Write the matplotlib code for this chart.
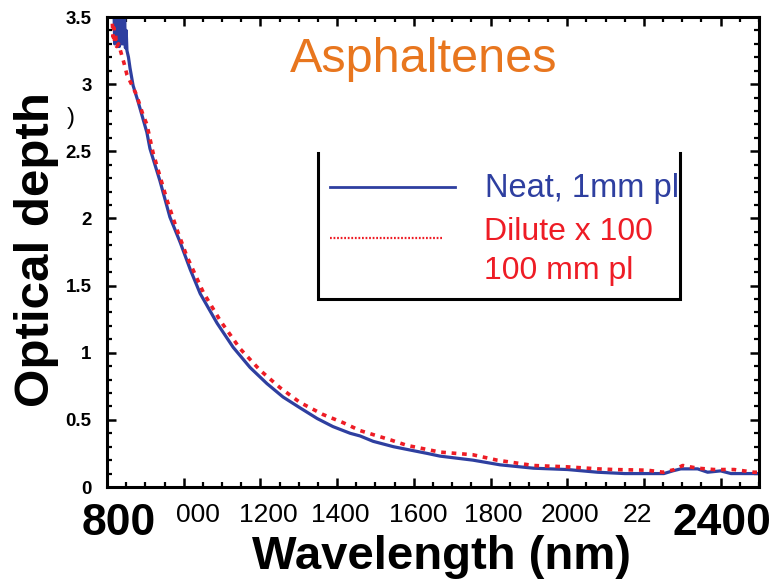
import matplotlib
matplotlib.use("Agg")
import matplotlib.pyplot as plt
from matplotlib.transforms import ScaledTranslation
from matplotlib.ticker import MultipleLocator

plt.rcParams['font.family'] = ['Liberation Sans', 'DejaVu Sans']

# ---- data ----
neat_wl = [818, 820, 822, 824, 826, 828, 830, 832, 834, 836, 838, 840, 842, 844,
           846, 848, 850, 852, 856, 860, 868, 881, 891, 904, 912, 938, 964, 991, 1017,
           1043, 1087, 1129, 1173, 1217, 1259, 1303, 1348, 1389, 1434, 1460, 1494,
           1547, 1582, 1635, 1668, 1754, 1825, 1912, 2001, 2079, 2150, 2192, 2252,
           2275, 2296, 2340, 2366, 2400, 2427, 2479, 2500]
neat_od = [3.6, 3.3, 3.6, 3.32, 3.6, 3.28, 3.6, 3.28, 3.6, 3.3, 3.6, 3.3, 3.55, 3.3,
           3.5, 3.27, 3.4, 3.25, 3.2, 3.12, 2.99, 2.87, 2.77, 2.64, 2.52, 2.28, 2.01,
           1.82, 1.62, 1.44, 1.22, 1.04, 0.89, 0.77, 0.67, 0.59, 0.51, 0.45, 0.40,
           0.38, 0.34, 0.30, 0.28, 0.25, 0.23, 0.20, 0.165, 0.14, 0.13, 0.11, 0.10,
           0.10, 0.10, 0.12, 0.135, 0.135, 0.11, 0.12, 0.10, 0.10, 0.10]

dil_wl = [814, 816, 818, 820, 822, 825, 830, 838, 845, 852, 877, 894, 904, 920, 956,
          982, 1008, 1051, 1095, 1147, 1199, 1251, 1303, 1363, 1415, 1460, 1494, 1540,
          1582, 1668, 1754, 1817, 1912, 2001, 2079, 2121, 2209, 2250, 2280, 2301, 2340,
          2383, 2435, 2487, 2500]
dil_od = [3.45, 3.35, 3.42, 3.3, 3.38, 3.28, 3.3, 3.22, 3.15, 3.07, 2.92, 2.77, 2.70,
          2.49, 2.14, 1.92, 1.72, 1.45, 1.24, 1.03, 0.87, 0.74, 0.63, 0.54, 0.48, 0.42,
          0.39, 0.35, 0.31, 0.26, 0.24, 0.20, 0.16, 0.15, 0.135, 0.13, 0.125, 0.11, 0.13,
          0.16, 0.14, 0.13, 0.13, 0.11, 0.11]

x_ticks = [800, 1000, 1200, 1400, 1600, 1800, 2000, 2200, 2400]
x_tick_labels = ["800", "000", "1200", "1400", "1600", "1800", "2000", "22", "2400"]
y_ticks = [0, 0.5, 1, 1.5, 2, 2.5, 3, 3.5]
y_tick_labels = ["0", "0.5", "1", "1.5", "2", "2.5", "3", "3.5"]

title = "Asphaltenes"
series_labels = ["Neat, 1mm pl", "Dilute x 100", "100 mm pl"]

BLUE = '#2E3FA0'
RED = '#EE1C25'
ORANGE = '#E8761E'

fig = plt.figure(figsize=(7.82, 5.81), dpi=100)
ax = fig.add_axes([107/782, 1-487/581, (759-107)/782, (487-17)/581])

ax.plot(neat_wl, neat_od, color=BLUE, lw=2.3, solid_joinstyle='round')
ax.plot(dil_wl, dil_od, color=RED, lw=2.6, linestyle=(0, (1.3, 1.6)))

ax.set_xlim(800, 2500)
ax.set_ylim(0, 3.5)

for s in ax.spines.values():
    s.set_linewidth(2.2)
    s.set_color('black')

ax.xaxis.set_minor_locator(MultipleLocator(50))
ax.yaxis.set_minor_locator(MultipleLocator(0.1))
ax.tick_params(which='both', direction='in', top=True, right=True, color='black')
ax.tick_params(which='major', length=6.5, width=1.8)
ax.tick_params(which='minor', length=3.6, width=1.6)

ax.set_xticks(x_ticks)
ax.set_xticklabels(x_tick_labels)
ax.set_yticks(y_ticks)
ax.set_yticklabels(y_tick_labels)
ax.tick_params(axis='x', which='major', pad=11.5)
ax.tick_params(axis='y', which='major', pad=11)

x_offsets_px = [12, 14, 8, 3, 4, 3, 3, -7, 1]
for lab, off in zip(ax.get_xticklabels(), x_offsets_px):
    txt = lab.get_text()
    if txt in ("800", "2400"):
        lab.set_fontsize(32)
        lab.set_fontweight('bold')
    else:
        lab.set_fontsize(19)
    lab.set_transform(lab.get_transform() + ScaledTranslation(off/100, 0, fig.dpi_scale_trans))

for lab in ax.get_yticklabels():
    lab.set_fontsize(13.5)
    lab.set_fontweight('bold')

# axis titles
fig.text(37/782, 1-250/581, "Optical depth", rotation=90, ha='center', va='center',
         fontsize=35.5, fontweight='bold')
fig.text(441/782, 1-569/581, "Wavelength (nm)", ha='center', va='baseline',
         fontsize=34, fontweight='bold')
fig.text(71/782, 1-118/581, ")", ha='center', va='center', fontsize=17)

# title inside plot
ax.text((290-107)/652, (487-72)/470, title, transform=ax.transAxes, ha='left',
        va='baseline', fontsize=35, color=ORANGE)

# legend box (open top)
def ax_x(px):
    return (px-107)/652

def ax_y(py):
    return (487-py)/470

ax.plot([ax_x(318), ax_x(318), ax_x(680), ax_x(680)],
        [ax_y(153), ax_y(299), ax_y(299), ax_y(153)],
        transform=ax.transAxes, color='black', lw=2.2, solid_joinstyle='miter',
        clip_on=False)
ax.plot([ax_x(330), ax_x(455)], [ax_y(187), ax_y(187)], transform=ax.transAxes,
        color=BLUE, lw=2.0)
ax.plot([ax_x(330), ax_x(442)], [ax_y(238), ax_y(238)], transform=ax.transAxes,
        color=RED, lw=1.6, linestyle=(0, (0.8, 0.8)))
ax.text(ax_x(485), ax_y(197), series_labels[0], transform=ax.transAxes, ha='left',
        va='baseline', fontsize=23.5, color=BLUE)
ax.text(ax_x(484), ax_y(240), series_labels[1], transform=ax.transAxes, ha='left',
        va='baseline', fontsize=23, color=RED)
ax.text(ax_x(484), ax_y(279), series_labels[2], transform=ax.transAxes, ha='left',
        va='baseline', fontsize=23, color=RED)

fig.savefig("out.png", dpi=100)
